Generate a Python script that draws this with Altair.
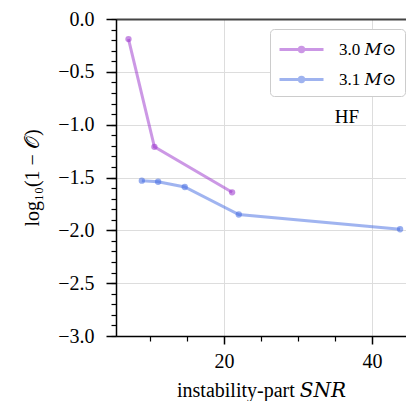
import altair as alt
import pandas as pd

# data
snr_30 = [7.1, 10.6, 21.1]
log_30 = [-0.19, -1.21, -1.64]
snr_31 = [8.9, 11.1, 14.7, 22.0, 43.8]
log_31 = [-1.53, -1.54, -1.59, -1.85, -1.99]
series_labels = ["3.0 𝑀⊙", "3.1 𝑀⊙"]
series_colors = ["#9932CC", "#4169E1"]
x_major = [20, 40]
x_minor = [10, 15, 25, 30, 35]
y_major = [-3.0, -2.5, -2.0, -1.5, -1.0, -0.5, 0.0]
y_minor = [round(-3 + 0.1 * i, 1) for i in range(31)]
x_domain = [5.41, 44.6]
y_domain = [-3.0, 0.0]
note_text = ["HF"]
note_x = [36.6]
note_y = [-0.93]

df = pd.concat([
    pd.DataFrame({"snr": snr_30, "val": log_30, "series": series_labels[0]}),
    pd.DataFrame({"snr": snr_31, "val": log_31, "series": series_labels[1]}),
], ignore_index=True)
note_df = pd.DataFrame({"t": note_text, "x": note_x, "y": note_y})

FONT = "Liberation Serif, DejaVu Serif, serif"
xs = alt.Scale(domain=x_domain, nice=False, zero=False)
ys = alt.Scale(domain=y_domain, nice=False, zero=False)
cs = alt.Scale(domain=series_labels, range=series_colors)

# legend glyph: a line with a dot in the middle (unit = sqrt(size)/2)
path = ("M-1,0H3M0.8,0A0.2,0.2 0 1,0 1.2,0A0.2,0.2 0 1,0 0.8,0Z")

x_main = alt.X("snr:Q", scale=xs, axis=alt.Axis(
    values=x_major, format="d", tickSize=8, tickWidth=1.5, tickColor="black",
    domainColor="black", domainWidth=1.5, labelFont=FONT, labelFontSize=20,
    labelColor="black", labelPadding=7, grid=True, gridColor="#dddddd", gridWidth=1,
    title="instability-part 𝑆𝑁𝑅", titleFont=FONT, titleFontSize=20,
    titleFontWeight="normal", titleColor="black", titlePadding=9, orient="bottom"))
y_main = alt.Y("val:Q", scale=ys, axis=alt.Axis(
    values=y_major, format=".1f", tickSize=10, tickWidth=1.5, tickColor="black",
    domainColor="black", domainWidth=1.5, labelFont=FONT, labelFontSize=20,
    labelColor="black", labelPadding=12, grid=True, gridColor="#dddddd", gridWidth=1,
    title="log₁₀(1 − 𝒪)", titleFont=FONT, titleFontSize=20,
    titleFontWeight="normal", titleColor="black", titlePadding=15, orient="left"))

color = alt.Color("series:N", scale=cs, legend=alt.Legend(
    orient="none", legendX=154, legendY=10, title=None,
    labelFont=FONT, labelFontSize=17, labelColor="black",
    symbolType=path, symbolSize=484, symbolStrokeWidth=3, symbolOpacity=0.5,
    padding=8, rowPadding=9, labelOffset=36,
    strokeColor="#cccccc", fillColor="white", cornerRadius=4))

base = alt.Chart(df)
lines = base.mark_line(strokeWidth=3, opacity=0.5).encode(
    x=alt.X("snr:Q", scale=xs, axis=None), y=alt.Y("val:Q", scale=ys, axis=None),
    color=color, detail="series:N")
points = base.mark_circle(size=40, opacity=0.55).encode(x=x_main, y=y_main, color=color)

minor = base.mark_point(opacity=0).encode(
    x=alt.X("snr:Q", scale=xs, axis=alt.Axis(values=x_minor, tickSize=5, tickWidth=1.2,
                                              tickColor="black", labels=False, domain=False,
                                              grid=False, title=None, orient="bottom")),
    y=alt.Y("val:Q", scale=ys, axis=alt.Axis(values=y_minor, tickSize=5, tickWidth=1.2,
                                              tickColor="black", labels=False, domain=False,
                                              grid=False, title=None, orient="left")))

topspine = base.mark_point(opacity=0).encode(
    x=alt.X("snr:Q", scale=xs, axis=alt.Axis(ticks=False, labels=False, domain=True,
                                              domainColor="#444444", domainWidth=2,
                                              grid=False, title=None, orient="top")),
    y=alt.Y("val:Q", scale=ys, axis=None))

note = alt.Chart(note_df).mark_text(font=FONT, fontSize=19, color="black").encode(
    x=alt.X("x:Q", scale=xs, axis=None), y=alt.Y("y:Q", scale=ys, axis=None), text="t:N")

chart = alt.layer(lines, points, note, minor, topspine).resolve_axis(
    x="independent", y="independent").properties(
    width=290, height=317,
    autosize=alt.AutoSizeParams(type="none"),
    padding={"left": 108, "top": 11, "right": 0, "bottom": 65},
).configure_view(stroke=None)

chart.save("out.html", embed_options={"renderer": "svg", "actions": False})
